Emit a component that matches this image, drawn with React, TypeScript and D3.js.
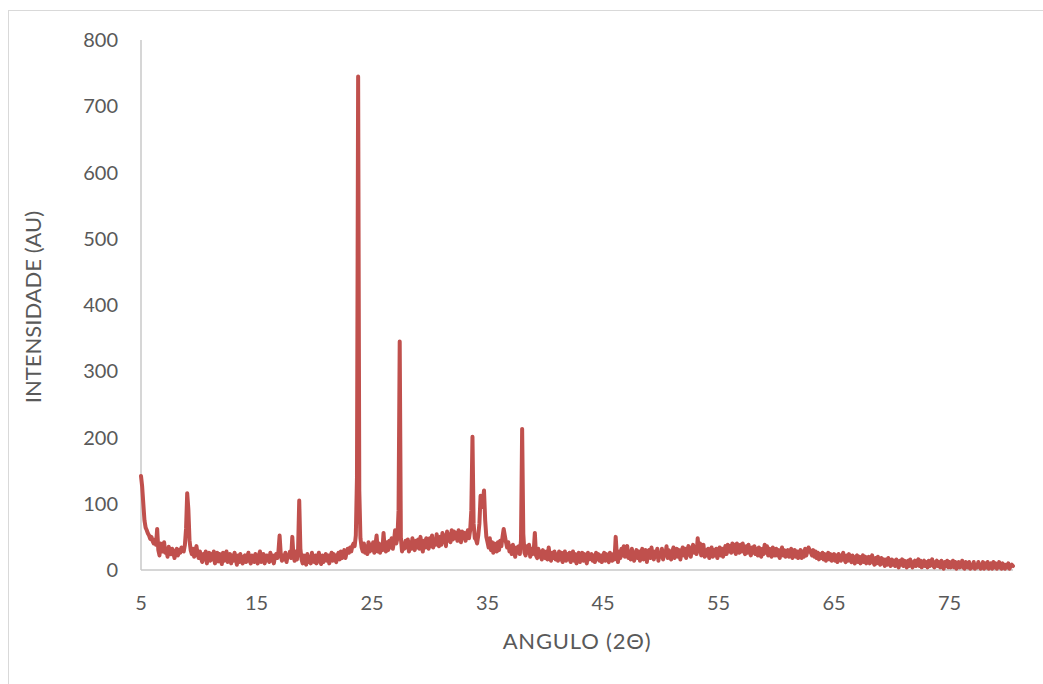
import React from "react";
import * as d3 from "d3";

// 2θ sampling grid (degrees) of the measured pattern
const ANGLE_START = 5;
const ANGLE_STEP = 0.1;

// Intensity (AU), one row per degree: n.0 … n.9
const intensity: number[] = [
  // 5
  142, 126, 100, 75, 64, 60, 55, 52, 47, 50,
  // 6
  44, 40, 46, 38, 62, 30, 22, 40, 35, 28,
  // 7
  42, 26, 30, 20, 35, 28, 24, 32, 26, 18,
  // 8
  28, 32, 22, 30, 26, 34, 30, 28, 38, 62,
  // 9
  116, 92, 45, 30, 24, 32, 20, 28, 36, 24,
  // 10
  18, 28, 18, 12, 24, 16, 28, 10, 22, 26,
  // 11
  14, 24, 16, 28, 10, 22, 26, 13, 24, 16,
  // 12
  9, 26, 14, 22, 28, 12, 20, 24, 10, 22,
  // 13
  14, 26, 18, 8, 22, 12, 24, 14, 10, 20,
  // 14
  22, 12, 20, 26, 14, 10, 22, 18, 12, 24,
  // 15
  14, 10, 22, 28, 12, 20, 24, 10, 16, 22,
  // 16
  18, 12, 26, 14, 22, 10, 20, 24, 18, 28,
  // 17
  52, 24, 14, 22, 16, 26, 12, 22, 20, 28,
  // 18
  18, 50, 22, 14, 28, 16, 30, 105, 32, 16,
  // 19
  10, 22, 14, 8, 24, 12, 20, 10, 26, 14,
  // 20
  12, 22, 10, 20, 26, 14, 9, 22, 12, 20,
  // 21
  24, 14, 22, 10, 20, 26, 14, 24, 16, 12,
  // 22
  22, 26, 16, 28, 18, 24, 30, 18, 26, 32,
  // 23
  26, 34, 28, 36, 40, 36, 52, 140, 745, 120,
  // 24
  48, 34, 28, 40, 26, 36, 24, 42, 28, 38,
  // 25
  30, 42, 26, 38, 52, 28, 40, 26, 38, 30,
  // 26
  56, 32, 28, 42, 30, 44, 34, 48, 32, 42,
  // 27
  60, 40, 48, 90, 345, 48, 28, 40, 32, 44,
  // 28
  34, 46, 28, 42, 32, 48, 36, 30, 44, 34,
  // 29
  46, 32, 50, 36, 28, 44, 34, 48, 38, 32,
  // 30
  48, 36, 52, 34, 46, 38, 54, 40, 36, 50,
  // 31
  38, 56, 42, 52, 36, 58, 44, 54, 42, 60,
  // 32
  46, 58, 48, 56, 44, 60, 50, 42, 58, 48,
  // 33
  56, 44, 54, 60, 48, 60, 90, 201, 70, 48,
  // 34
  46, 40, 52, 70, 112, 95, 105, 120, 75, 50,
  // 35
  42, 34, 48, 30, 42, 26, 40, 32, 28, 42,
  // 36
  30, 44, 36, 50, 62, 52, 42, 34, 42, 28,
  // 37
  36, 24, 38, 28, 20, 34, 26, 36, 24, 45,
  // 38
  213, 55, 26, 22, 36, 26, 38, 20, 32, 24,
  // 39
  28, 56, 22, 18, 32, 20, 28, 16, 30, 22,
  // 40
  18, 28, 16, 34, 20, 14, 26, 18, 28, 16,
  // 41
  24, 14, 28, 16, 26, 12, 22, 28, 14, 24,
  // 42
  16, 26, 12, 22, 28, 14, 24, 10, 22, 26,
  // 43
  12, 22, 26, 14, 24, 16, 10, 26, 16, 22,
  // 44
  24, 14, 22, 12, 26, 16, 24, 14, 22, 12,
  // 45
  22, 26, 14, 24, 16, 12, 26, 18, 14, 24,
  // 46
  16, 50, 22, 12, 28, 18, 32, 22, 36, 20,
  // 47
  30, 36, 18, 28, 16, 32, 22, 14, 24, 30,
  // 48
  18, 28, 14, 26, 32, 16, 24, 30, 12, 26,
  // 49
  30, 18, 34, 22, 16, 28, 20, 32, 14, 26,
  // 50
  20, 32, 16, 28, 22, 36, 18, 30, 20, 16,
  // 51
  28, 34, 18, 26, 32, 20, 30, 16, 28, 34,
  // 52
  22, 32, 18, 30, 36, 24, 20, 32, 38, 26,
  // 53
  34, 24, 48, 28, 40, 22, 32, 38, 20, 30,
  // 54
  22, 32, 18, 28, 34, 20, 30, 22, 32, 18,
  // 55
  28, 34, 22, 32, 20, 30, 36, 24, 38, 28,
  // 56
  36, 26, 40, 28, 38, 24, 40, 30, 26, 38,
  // 57
  28, 40, 30, 24, 36, 26, 38, 28, 22, 34,
  // 58
  26, 36, 24, 32, 22, 34, 26, 20, 32, 24,
  // 59
  38, 26, 36, 22, 32, 24, 20, 34, 26, 22,
  // 60
  32, 22, 30, 18, 28, 34, 22, 30, 20, 28,
  // 61
  30, 20, 28, 32, 18, 26, 30, 20, 28, 18,
  // 62
  26, 30, 18, 28, 20, 32, 22, 28, 34, 30,
  // 63
  26, 22, 30, 20, 28, 18, 26, 16, 24, 18,
  // 64
  26, 16, 24, 14, 22, 26, 16, 24, 14, 22,
  // 65
  24, 14, 22, 12, 24, 16, 14, 22, 26, 16,
  // 66
  12, 22, 14, 24, 16, 12, 22, 14, 10, 20,
  // 67
  22, 12, 20, 10, 18, 22, 12, 20, 10, 18,
  // 68
  20, 10, 18, 22, 12, 8, 18, 10, 20, 12,
  // 69
  8, 18, 10, 16, 6, 16, 8, 18, 10, 6,
  // 70
  16, 8, 14, 6, 16, 8, 4, 14, 8, 16,
  // 71
  6, 14, 8, 4, 14, 6, 16, 8, 4, 12,
  // 72
  14, 6, 12, 16, 6, 14, 4, 12, 14, 6,
  // 73
  12, 4, 14, 6, 12, 16, 6, 4, 12, 14,
  // 74
  6, 12, 4, 14, 6, 2, 12, 6, 14, 4,
  // 75
  12, 4, 8, 14, 4, 12, 2, 8, 12, 4,
  // 76
  8, 14, 4, 2, 12, 6, 4, 12, 2, 8,
  // 77
  4, 12, 2, 8, 4, 12, 6, 2, 6, 12,
  // 78
  2, 10, 4, 12, 2, 6, 10, 2, 12, 4,
  // 79
  10, 2, 6, 12, 4, 2, 10, 4, 2, 8,
  // 80
  4, 10, 2, 6, 8, 6,
];

const xDomain: [number, number] = [5, 80.5];
const yDomain: [number, number] = [0, 800];
const xTicks = [5, 15, 25, 35, 45, 55, 65, 75];
const yTicks = [0, 100, 200, 300, 400, 500, 600, 700, 800];
const xTitle = "ANGULO (2Θ)";
const yTitle = "INTENSIDADE (AU)";

const W = 1043;
const H = 684;
const FONT = "Lato, 'Open Sans', 'DejaVu Sans', sans-serif";
const TEXT = "#595959";

export default function App() {
  const x = d3.scaleLinear().domain(xDomain).range([141, 1013]);
  const y = d3.scaleLinear().domain(yDomain).range([570, 40]);
  const pts: [number, number][] = intensity.map((v, i) => [ANGLE_START + i * ANGLE_STEP, v]);
  const path = d3
    .line<[number, number]>()
    .x((d) => x(d[0]))
    .y((d) => y(d[1]))(pts) as string;

  return (
    <svg
      width={W}
      height={H}
      style={{ position: "absolute", left: 0, top: 0, background: "#fff" }}
      fontFamily={FONT}
    >
      <rect x={8.5} y={10.5} width={1100} height={760} fill="#fff" stroke="#d9d9d9" strokeWidth={1} />
      {/* axes */}
      <line x1={x(xDomain[0])} x2={x(xDomain[0])} y1={y(yDomain[1])} y2={y(0)} stroke="#c8c8c8" strokeWidth={1.5} />
      <line x1={x(xDomain[0])} x2={x(xDomain[1])} y1={y(0)} y2={y(0)} stroke="#c8c8c8" strokeWidth={1.5} />
      {yTicks.map((t) => (
        <text key={"y" + t} x={118} y={y(t)} dy="0.35em" textAnchor="end" fontSize={20} fill={TEXT}>
          {t}
        </text>
      ))}
      {xTicks.map((t) => (
        <text key={"x" + t} x={x(t)} y={603} dy="0.35em" textAnchor="middle" fontSize={20} fill={TEXT}>
          {t}
        </text>
      ))}
      <path d={path} fill="none" stroke="#C0504D" strokeWidth={4} strokeLinejoin="round" strokeLinecap="round" />
      <text x={577} y={641} dy="0.35em" textAnchor="middle" fontSize={22} letterSpacing={0.8} fill={TEXT}>
        {xTitle}
      </text>
      <text
        transform={`translate(33,${307}) rotate(-90)`}
        dy="0.35em"
        textAnchor="middle"
        fontSize={22}
        fill={TEXT}
      >
        {yTitle}
      </text>
    </svg>
  );
}
